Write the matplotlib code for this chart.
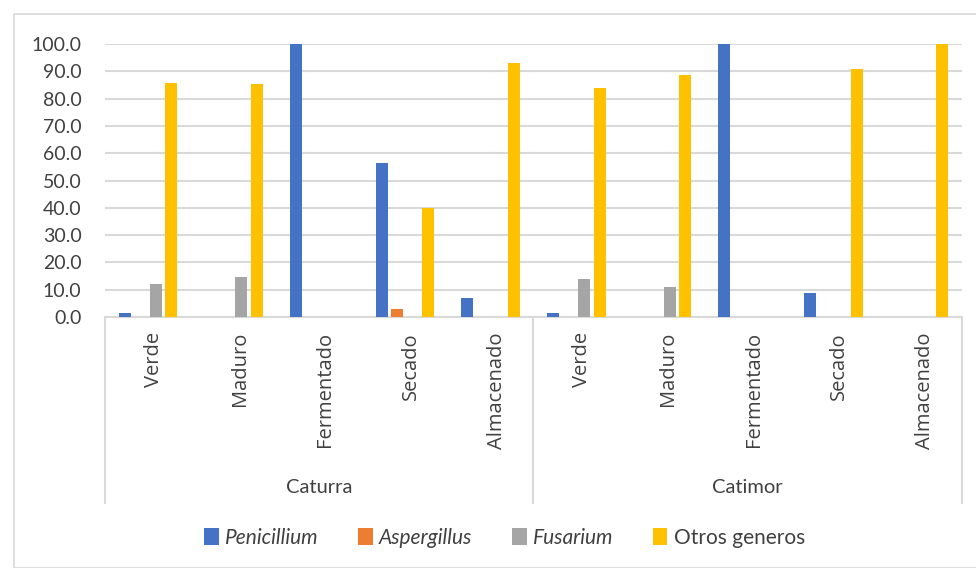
import numpy as np
import matplotlib.pyplot as plt
from matplotlib.patches import Rectangle

# -------------------
# Data (% of isolates)
# -------------------
stages = ["Verde", "Maduro", "Fermentado", "Secado", "Almacenado"]
varieties = ["Caturra", "Catimor"]

penicillium = [1.6, 0.0, 100.0, 56.5, 6.9, 1.5, 0.0, 100.0, 8.7, 0.0]
aspergillus = [0.0, 0.0, 0.0, 2.9, 0.0, 0.0, 0.0, 0.0, 0.0, 0.0]
fusarium = [12.0, 14.5, 0.0, 0.0, 0.0, 14.0, 11.0, 0.0, 0.0, 0.0]
otros = [85.8, 85.2, 0.0, 39.8, 92.9, 83.8, 88.6, 0.0, 90.8, 100.0]

series = [
    ("Penicillium", penicillium, "#4472C4"),
    ("Aspergillus", aspergillus, "#ED7D31"),
    ("Fusarium", fusarium, "#A5A5A5"),
    ("Otros generos", otros, "#FFC000"),
]

grid_col = "#D9D9D9"
text_col = "#404040"

fig = plt.figure(figsize=(9.76, 5.68), dpi=100)
ax = fig.add_axes([0.1076, 0.4419, 0.878, 0.4806])

n = len(stages) * len(varieties)
x = np.arange(n)
width = 0.14
step = 0.181

for i, (name, vals, col) in enumerate(series):
    ax.bar(x + (i - 1.5) * step, vals, width, color=col, label=name, zorder=3)

ax.set_xlim(-0.5, n - 0.5)
ax.set_ylim(0, 100)
ax.set_yticks(np.arange(0, 101, 10))
ax.set_yticklabels([f"{v:.1f}" for v in range(0, 101, 10)])
ax.tick_params(axis="y", length=0, pad=17, labelsize=14, labelcolor=text_col)
ax.set_xticks([])
for lab in ax.get_yticklabels():
    lab.set_fontfamily("Lato")

ax.grid(axis="y", color=grid_col, linewidth=1.5, zorder=0)
for s in ["top", "right", "left"]:
    ax.spines[s].set_visible(False)
ax.spines["bottom"].set_color(grid_col)
ax.spines["bottom"].set_linewidth(1.5)

# two-level category axis
trans = ax.get_xaxis_transform()
for i in range(n):
    ax.text(i + 0.07, -0.055, stages[i % len(stages)], rotation=90, ha="center", va="top",
            transform=trans, fontsize=14.5, color=text_col, family="Open Sans")
for sx in [-0.5, 4.5, 9.5]:
    ax.plot([sx, sx], [0, -0.68], transform=trans, color=grid_col,
            linewidth=1.5, clip_on=False)
for j, v in enumerate(varieties):
    ax.text(2 + 5 * j, -0.623, v, ha="center", va="center", transform=trans,
            fontsize=14.5, color=text_col, family="Lato")

leg = fig.legend(loc="center", bbox_to_anchor=(0.517, 1 - 538 / 568), ncol=4,
                 frameon=False, handlelength=0.7, handleheight=0.9,
                 handletextpad=0.3, columnspacing=1.9,
                 prop={"family": "Lato", "size": 15})
for t in leg.get_texts():
    t.set_color(text_col)
for t in leg.get_texts()[:3]:
    t.set_style("italic")

# outer chart frame
fig.patches.append(Rectangle((14 / 976, 0), 1, 1 - 14 / 568, transform=fig.transFigure,
                             fill=False, edgecolor=grid_col, linewidth=1.2))

fig.savefig("out.png", dpi=100)
